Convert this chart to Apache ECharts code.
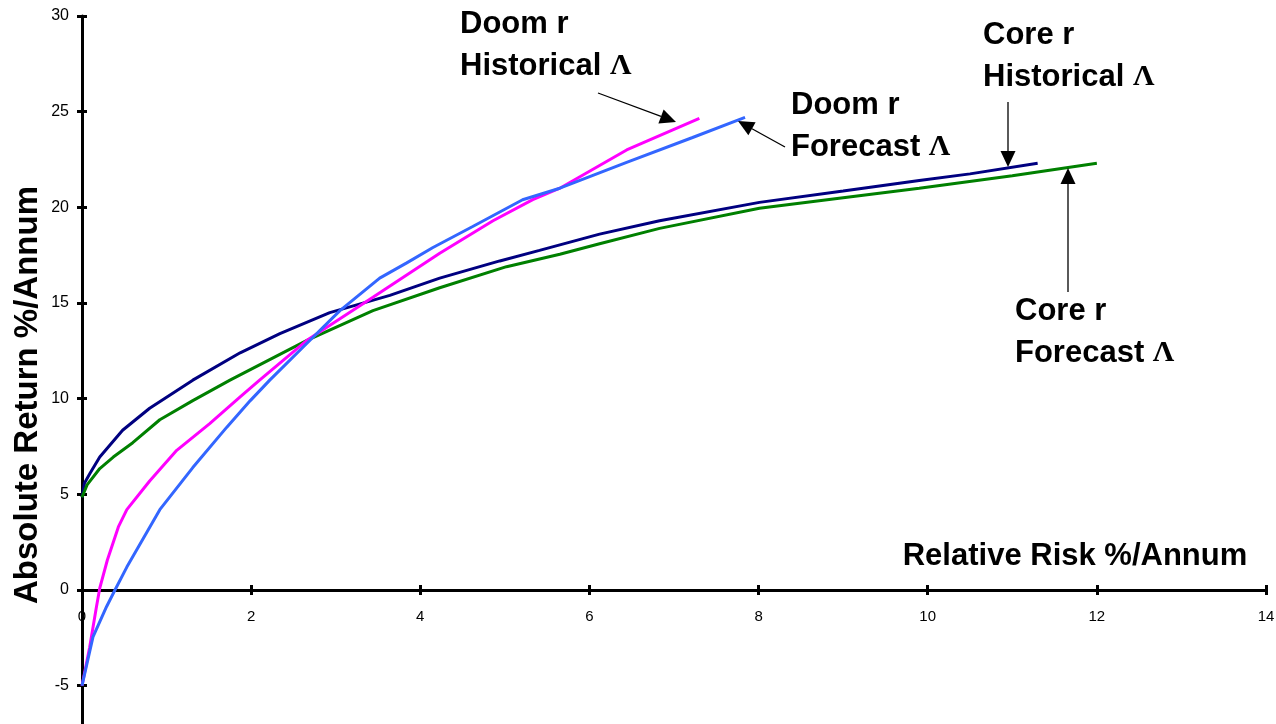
<!DOCTYPE html>
<html>
<head>
<meta charset="utf-8">
<script src="https://cdn.jsdelivr.net/npm/echarts@6/dist/echarts.min.js"></script>
<style>
html,body{margin:0;padding:0;background:#fff;}
#chart{width:1276px;height:724px;}
</style>
</head>
<body>
<div id="chart"></div>
<script>
// ---- Data ----
var coreHistX = [0, 0.03, 0.095, 0.21, 0.48, 0.8, 1.31, 1.87, 2.34, 2.93, 3.64, 4.23, 4.94, 5.41, 6.12, 6.83, 8.01, 9.0, 9.9, 10.5, 11.3];
var coreHistY = [4.85, 5.6, 6.1, 6.95, 8.35, 9.5, 10.97, 12.4, 13.4, 14.5, 15.4, 16.3, 17.2, 17.75, 18.6, 19.3, 20.26, 20.85, 21.4, 21.75, 22.3];

var coreFcstX = [0, 0.06, 0.21, 0.37, 0.6, 0.92, 1.31, 1.75, 2.66, 3.44, 4.23, 5.02, 5.65, 6.12, 6.83, 8.01, 9.0, 9.9, 11.0, 12.0];
var coreFcstY = [4.85, 5.5, 6.35, 6.95, 7.7, 8.9, 9.9, 10.97, 13.05, 14.6, 15.8, 16.9, 17.55, 18.1, 18.9, 19.95, 20.5, 21.0, 21.65, 22.3];

var doomHistX = [0, 0.09, 0.17, 0.21, 0.3, 0.43, 0.53, 0.8, 1.12, 1.51, 1.87, 2.1, 2.66, 3.44, 4.23, 4.86, 5.33, 5.65, 6.44, 7.3];
var doomHistY = [-5, -3, -0.9, 0.1, 1.57, 3.3, 4.2, 5.7, 7.3, 8.7, 10.1, 10.97, 13.05, 15.3, 17.6, 19.3, 20.4, 21.0, 23.0, 24.65];

var doomFcstX = [0, 0.13, 0.29, 0.39, 0.53, 0.92, 1.31, 1.71, 1.99, 2.22, 2.66, 3.05, 3.52, 3.84, 4.15, 4.62, 5.21, 5.65, 6.44, 7.22, 7.84];
var doomFcstY = [-5, -2.45, -0.87, 0, 1.2, 4.2, 6.4, 8.5, 9.9, 10.97, 12.9, 14.6, 16.3, 17.1, 17.9, 19.0, 20.4, 21.0, 22.35, 23.65, 24.7];

var seriesNames = ['Core r Historical Λ', 'Core r Forecast Λ', 'Doom r Historical Λ', 'Doom r Forecast Λ'];
var seriesColors = ['#000080', '#008000', '#FF00FF', '#3366FF'];

var xTickValues = [0, 2, 4, 6, 8, 10, 12, 14];
var yTickValues = [-5, 0, 5, 10, 15, 20, 25, 30];
var xRange = [0, 14];
var yRange = [-7, 30];

function zip(xs, ys) { return xs.map(function (x, i) { return [x, ys[i]]; }); }
var allData = [zip(coreHistX, coreHistY), zip(coreFcstX, coreFcstY), zip(doomHistX, doomHistY), zip(doomFcstX, doomFcstY)];

var FONT = 'Arial, "Liberation Sans", Helvetica, sans-serif';
var SERIF = '"Times New Roman", "Liberation Serif", serif';

var W = 1276, H = 724;
var gridTop = 16, gridBottom = 0;
// x axis crosses the y axis at value 0: shift it up from the grid bottom accordingly
var gridH = H - gridTop - gridBottom;
var xAxisOffset = -gridH * (0 - yRange[0]) / (yRange[1] - yRange[0]);

function arrow(x1, y1, x2, y2) {
  var dx = x2 - x1, dy = y2 - y1, len = Math.sqrt(dx * dx + dy * dy);
  var ux = dx / len, uy = dy / len, hl = 16, hw = 7.5;
  var bx = x2 - ux * hl, by = y2 - uy * hl;
  return [
    {type: 'line', shape: {x1: x1, y1: y1, x2: bx, y2: by}, style: {stroke: '#000', lineWidth: 1.3}, z: 50},
    {type: 'polygon', shape: {points: [[x2, y2], [bx - uy * hw, by + ux * hw], [bx + uy * hw, by - ux * hw]]}, style: {fill: '#000'}, z: 50}
  ];
}

function label(left, top, l1, l2) {
  return {
    type: 'text', left: left, top: top, z: 60,
    style: {
      text: '{b|' + l1 + '}\n{b|' + l2 + ' }{g|Λ}',
      rich: {
        b: {fontFamily: FONT, fontWeight: 'bold', fontSize: 31, lineHeight: 42, fill: '#000'},
        g: {fontFamily: SERIF, fontWeight: 'bold', fontSize: 30, lineHeight: 42, fill: '#000'}
      }
    }
  };
}

var chart = echarts.init(document.getElementById('chart'), null, {renderer: 'canvas'});

var axisLineStyle = {color: '#000', width: 3};
var tickStyle = {color: '#000', width: 3};

var option = {
  animation: false,
  backgroundColor: '#fff',
  grid: {left: 82, right: 10, top: gridTop, bottom: gridBottom, containLabel: false, outerBoundsMode: 'none'},
  xAxis: [{
    type: 'value', min: xRange[0], max: xRange[1], position: 'bottom', offset: xAxisOffset,
    axisLine: {show: true, onZero: false, lineStyle: axisLineStyle},
    axisTick: {show: true, length: 5, customValues: xTickValues, lineStyle: tickStyle},
    axisLabel: {show: true, color: '#000', fontFamily: FONT, fontSize: 15, margin: 19, customValues: xTickValues},
    splitLine: {show: false}
  }, {
    type: 'value', min: xRange[0], max: xRange[1], position: 'bottom', offset: xAxisOffset,
    axisLine: {show: false, onZero: false},
    axisTick: {show: true, inside: true, length: 5, customValues: xTickValues, lineStyle: tickStyle},
    axisLabel: {show: false}, splitLine: {show: false}
  }],
  yAxis: [{
    type: 'value', min: yRange[0], max: yRange[1],
    axisLine: {show: true, onZero: false, lineStyle: axisLineStyle},
    axisTick: {show: true, length: 5, customValues: yTickValues, lineStyle: tickStyle},
    axisLabel: {show: true, color: '#000', fontFamily: FONT, fontSize: 16, margin: 13, customValues: yTickValues},
    splitLine: {show: false}
  }, {
    type: 'value', min: yRange[0], max: yRange[1], position: 'left',
    axisLine: {show: false, onZero: false},
    axisTick: {show: true, inside: true, length: 5, customValues: yTickValues, lineStyle: tickStyle},
    axisLabel: {show: false}, splitLine: {show: false}
  }],
  series: allData.map(function (d, i) {
    return {
      name: seriesNames[i], type: 'line', data: d, xAxisIndex: 0, yAxisIndex: 0,
      showSymbol: false, symbol: 'none', smooth: false,
      lineStyle: {color: seriesColors[i], width: 3},
      z: 10 + i
    };
  }),
  graphic: [].concat(
    [{
      type: 'text', x: 1075, y: 556, z: 60,
      style: {text: 'Relative Risk %/Annum', fontFamily: FONT, fontWeight: 'bold', fontSize: 31, fill: '#000', textAlign: 'center', textVerticalAlign: 'middle'}
    }, {
      type: 'text', x: 28, y: 395, rotation: Math.PI / 2, z: 60,
      style: {text: 'Absolute Return %/Annum', fontFamily: FONT, fontWeight: 'bold', fontSize: 33, fill: '#000', textAlign: 'center', textVerticalAlign: 'middle'}
    }],
    [label(460, 9, 'Doom r', 'Historical'),
     label(791, 90, 'Doom r', 'Forecast'),
     label(983, 20, 'Core r', 'Historical'),
     label(1015, 296, 'Core r', 'Forecast')],
    arrow(598, 93, 676, 122),
    arrow(785, 147, 738, 121),
    arrow(1008, 102, 1008, 167),
    arrow(1068, 292, 1068, 168)
  )
};
chart.setOption(option);
</script>
</body>
</html>
